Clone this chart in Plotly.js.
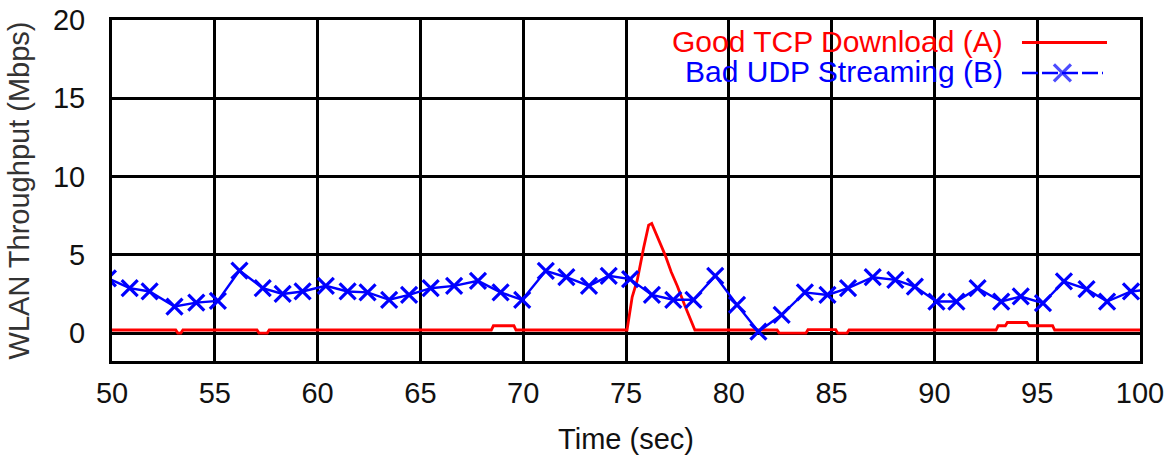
<!DOCTYPE html>
<html>
<head>
<meta charset="utf-8">
<script src="https://cdn.plot.ly/plotly-3.0.1.min.js"></script>
<style>html,body{margin:0;padding:0;background:#fff;}#chart{width:1166px;height:455px;}</style>
</head>
<body>
<div id="chart"></div>
<script>
// ---- data ----
const tcpTime = [50, 53.1, 53.2, 53.35, 53.45, 57.05, 57.15, 57.55, 57.65, 68.45, 68.55, 69.55, 69.65,
  75.05, 75.3, 75.55, 75.85, 76.1, 76.25, 76.55, 76.9, 77.2, 77.5, 77.85, 78.15, 78.35,
  82.35, 82.45, 83.75, 83.85, 85.2, 85.3, 85.75, 85.85, 93.0, 93.1, 93.45, 93.55, 94.5, 94.6, 95.75, 95.85, 100];
const tcpThroughput = [0.2, 0.2, 0, 0, 0.2, 0.2, 0, 0, 0.2, 0.2, 0.47, 0.47, 0.2,
  0.2, 2.3, 3.4, 5.4, 6.9, 7.0, 6.1, 5.0, 3.9, 3.0, 1.8, 0.9, 0.2,
  0.2, 0, 0, 0.22, 0.22, 0, 0, 0.2, 0.2, 0.47, 0.47, 0.68, 0.68, 0.47, 0.47, 0.2, 0.2];

const udpTime = [49.8, 50.86, 51.83, 53.04, 54.1, 55.15, 56.2, 57.33, 58.3, 59.27, 60.4, 61.46, 62.43,
  63.48, 64.45, 65.5, 66.64, 67.8, 68.9, 69.95, 71.1, 72.1, 73.2, 74.16, 75.2, 76.26, 77.3, 78.28,
  79.34, 80.4, 81.44, 82.57, 83.7, 84.8, 85.8, 87.0, 88.1, 89.05, 90.1, 91.07, 92.1, 93.25, 94.2,
  95.28, 96.3, 97.4, 98.4, 99.56, 100.6];
const udpThroughput = [3.5, 2.87, 2.66, 1.7, 1.95, 2.06, 4.0, 2.87, 2.5, 2.66, 3.02, 2.66, 2.6,
  2.13, 2.44, 2.87, 3.02, 3.34, 2.6, 2.13, 3.98, 3.57, 3.02, 3.66, 3.45, 2.44, 2.13, 2.13,
  3.66, 1.81, 0.1, 1.17, 2.6, 2.44, 2.87, 3.57, 3.4, 2.97, 2.02, 2.02, 2.87, 2.02, 2.34,
  1.91, 3.3, 2.81, 2.02, 2.66, 2.8];

const seriesNames = ["Good TCP Download (A)", "Bad UDP Streaming (B)"];
const xTicks = [50, 55, 60, 65, 70, 75, 80, 85, 90, 95, 100];
const yTicks = [0, 5, 10, 15, 20];

// ---- chart ----
const FONT = "Liberation Sans, Arial, sans-serif";
const RED = "#ff0000", BLUE = "#0000ff";

const traces = [
  {x: tcpTime, y: tcpThroughput, type: "scatter", mode: "lines", name: seriesNames[0],
   line: {color: RED, width: 2.8}, showlegend: false, hoverinfo: "skip"},
  {x: udpTime, y: udpThroughput, type: "scatter", mode: "lines+markers", name: seriesNames[1],
   line: {color: BLUE, width: 2.4}, marker: {symbol: "x-thin-open", size: 16, color: BLUE, line: {color: BLUE, width: 3.2}},
   showlegend: false, hoverinfo: "skip"},
  // legend sample for series B (on an overlay 0..1 axis pair)
  {x: [0.8852, 0.9245, 0.964], y: [0.8446, 0.8446, 0.8446], xaxis: "x2", yaxis: "y2", type: "scatter",
   mode: "lines+markers", line: {color: BLUE, width: 2.6, dash: "16px,4px"},
   marker: {symbol: "x-thin-open", size: [0, 17, 0], color: BLUE, line: {color: BLUE, width: 3.2}},
   showlegend: false, hoverinfo: "skip"}
];

const layout = {
  width: 1166, height: 455,
  margin: {l: 112, r: 26, t: 20, b: 94},
  paper_bgcolor: "#fff", plot_bgcolor: "#fff",
  font: {family: FONT, size: 29, color: "#111"},
  showlegend: false,
  xaxis: {
    range: [50, 100], tickvals: xTicks, ticktext: xTicks.map(String),
    showgrid: true, gridcolor: "#000", gridwidth: 3,
    showline: true, linecolor: "#000", linewidth: 3, mirror: true,
    zeroline: false, ticks: "", ticklabelstandoff: 4,
    tickfont: {family: FONT, size: 29, color: "#111"},
    title: {text: "Time (sec)", font: {family: FONT, size: 29, color: "#111"}, standoff: 21}
  },
  yaxis: {
    range: [-1.78, 20], tickvals: yTicks, ticktext: yTicks.map(String),
    showgrid: true, gridcolor: "#000", gridwidth: 3,
    showline: true, linecolor: "#000", linewidth: 3, mirror: true,
    zeroline: false, ticks: "", ticklabelstandoff: 18,
    tickfont: {family: FONT, size: 29, color: "#111"},
    title: {text: "WLAN Throughput (Mbps)", font: {family: FONT, size: 29, color: "#333"}, standoff: 15}
  },
  xaxis2: {overlaying: "x", range: [0, 1], visible: false, fixedrange: true},
  yaxis2: {overlaying: "y", range: [0, 1], visible: false, fixedrange: true, anchor: "x2"},
  shapes: [
    {type: "rect", xref: "paper", yref: "paper", x0: 0.475, x1: 0.997, y0: 0.809, y1: 0.9765,
     fillcolor: "#fff", line: {width: 0}, layer: "between"},
    {type: "line", xref: "paper", yref: "paper", x0: 0.8852, x1: 0.9679, y0: 0.934, y1: 0.934,
     line: {color: RED, width: 3}, layer: "above"}
  ],
  annotations: [
    {xref: "paper", yref: "paper", x: 0.8687, y: 0.937, xanchor: "right", yanchor: "middle",
     text: seriesNames[0], showarrow: false, font: {family: FONT, size: 30, color: RED}},
    {xref: "paper", yref: "paper", x: 0.8687, y: 0.849, xanchor: "right", yanchor: "middle",
     text: seriesNames[1], showarrow: false, font: {family: FONT, size: 30, color: BLUE}}
  ]
};

Plotly.newPlot("chart", traces, layout, {displayModeBar: false, staticPlot: true});
</script>
</body>
</html>
